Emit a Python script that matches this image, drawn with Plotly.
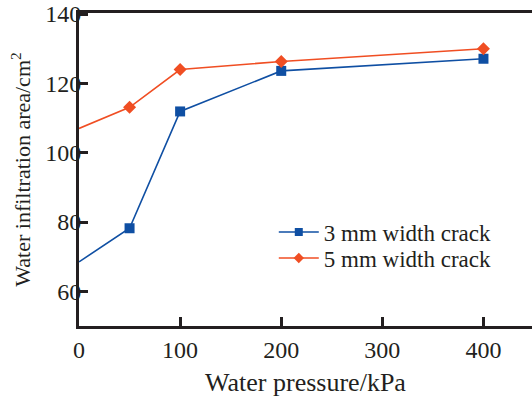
import plotly.graph_objects as go

# Water pressure (kPa) and infiltration area (cm^2) for two crack widths
pressure = [0, 50, 100, 200, 400]
area_3mm = [68.5, 78.2, 111.9, 123.6, 127.1]
area_5mm = [107.0, 113.1, 124.0, 126.3, 130.0]
series_names = ["3 mm width crack", "5 mm width crack"]

x_ticks = [0, 100, 200, 300, 400]
y_ticks = [60, 80, 100, 120, 140]

BLUE = "#0f4fa3"
RED = "#f04e23"
INK = "#231f20"
FONT = "Liberation Serif"

# no marker at the origin point
blue_sizes = [0, 10, 10, 10, 10]
red_sizes = [0, 10, 10, 10, 10]

fig = go.Figure()
fig.add_trace(go.Scatter(
    x=pressure, y=area_3mm, name=series_names[0], mode="lines+markers",
    line=dict(color=BLUE, width=1.6),
    marker=dict(symbol="square", size=blue_sizes, color=BLUE,
                opacity=1, line=dict(width=0)),
    cliponaxis=False, legend="legend",
))
fig.add_trace(go.Scatter(
    x=pressure, y=area_5mm, name=series_names[1], mode="lines+markers",
    line=dict(color=RED, width=1.6),
    marker=dict(symbol="diamond", size=red_sizes, color=RED,
                opacity=1, line=dict(width=0)),
    cliponaxis=False, legend="legend2",
))

leg_common = dict(xanchor="left", yanchor="middle", bgcolor="rgba(0,0,0,0)",
                  font=dict(size=23), itemwidth=40)

fig.update_layout(
    width=532, height=403,
    margin=dict(l=79, r=0, t=13, b=77),
    paper_bgcolor="white", plot_bgcolor="white",
    font=dict(family=FONT, size=22, color=INK),
    showlegend=True,
    legend=dict(x=0.43, y=(326 - 232) / 313, **leg_common),
    legend2=dict(x=0.43, y=(326 - 258) / 313, **leg_common),
    xaxis=dict(
        range=[0, 448], tickvals=x_ticks, ticktext=[str(v) for v in x_ticks],
        showgrid=False, zeroline=False,
        showline=True, linecolor=INK, linewidth=3, mirror=True,
        ticks="inside", ticklen=9, tickwidth=2.5, tickcolor=INK,
        tickfont=dict(size=24),
        title=dict(text="Water pressure/kPa", standoff=12, font=dict(size=26)),
    ),
    yaxis=dict(
        range=[50, 140.3], tickvals=y_ticks, ticktext=[str(v) for v in y_ticks],
        showgrid=False, zeroline=False,
        showline=True, linecolor=INK, linewidth=3, mirror=False,
        ticks="inside", ticklen=9, tickwidth=2.5, tickcolor=INK,
        tickfont=dict(size=24), ticklabelstandoff=-10,
        title=dict(text="Water infiltration area/cm<sup>2</sup>", standoff=9,
                   font=dict(size=22)),
    ),
)

fig.write_html("out.html")
